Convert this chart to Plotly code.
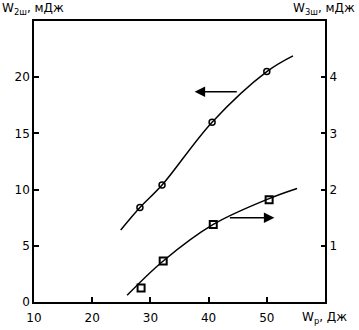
import plotly.graph_objects as go

# Data
wp_circ = [28.2, 32.0, 40.6, 50.0]
w2_circ = [8.4, 10.4, 16.0, 20.5]
wp_circ_curve = [24.9, 28.2, 32.0, 40.6, 50.0, 54.5]
w2_circ_curve = [6.4, 8.4, 10.4, 16.0, 20.5, 21.9]

wp_sq = [28.4, 32.2, 40.8, 50.4]
w3_sq = [0.25, 0.73, 1.38, 1.82]
wp_sq_curve = [26.0, 32.2, 40.8, 50.4, 55.2]
w3_sq_curve = [0.12, 0.73, 1.38, 1.84, 2.02]

x_ticks = [10, 20, 30, 40, 50]
y_left_ticks = [0, 5, 10, 15, 20]
y_right_ticks = [1, 2, 3, 4]

FONT = "DejaVu Sans"

fig = go.Figure()
fig.add_trace(go.Scatter(x=wp_circ_curve, y=w2_circ_curve, mode="lines",
                         line=dict(color="black", width=1.5, shape="spline"),
                         showlegend=False, hoverinfo="skip"))
fig.add_trace(go.Scatter(x=wp_circ, y=w2_circ, mode="markers",
                         marker=dict(symbol="circle-open", size=6, color="black",
                                     line=dict(width=1.5, color="black")),
                         showlegend=False))
fig.add_trace(go.Scatter(x=wp_sq_curve, y=w3_sq_curve, mode="lines", yaxis="y2",
                         line=dict(color="black", width=1.5, shape="spline"),
                         showlegend=False, hoverinfo="skip"))
fig.add_trace(go.Scatter(x=wp_sq, y=w3_sq, mode="markers", yaxis="y2",
                         marker=dict(symbol="square-open", size=7, color="black",
                                     line=dict(width=2, color="black")),
                         showlegend=False))

W, H = 359, 330
L, R, T, B = 34, 34, 21, 28
plot_h = H - T - B
plot_w = W - L - R

fig.update_layout(
    width=W, height=H,
    margin=dict(l=L, r=R, t=T, b=B),
    plot_bgcolor="white", paper_bgcolor="white",
    font=dict(family=FONT, size=12, color="black"),
    xaxis=dict(range=[10, 60], tickvals=x_ticks, ticks="inside", ticklen=5,
               tickwidth=1.5, tickcolor="black", showline=True, linecolor="black",
               linewidth=2, mirror=True, showgrid=False, zeroline=False,
               tickfont=dict(size=12), automargin=False, ticklabelstandoff=4),
    yaxis=dict(range=[0, 25], tickvals=y_left_ticks, ticks="inside", ticklen=5,
               tickwidth=1.5, tickcolor="black", showline=True, linecolor="black",
               linewidth=1.5, showgrid=False, zeroline=False, tickfont=dict(size=12),
               automargin=False),
    yaxis2=dict(range=[0, 5], tickvals=y_right_ticks, overlaying="y", side="right",
                ticks="inside", ticklen=4, tickwidth=1.5, tickcolor="black",
                showline=True, linecolor="black", linewidth=2, showgrid=False,
                zeroline=False, tickfont=dict(size=12), automargin=False),
    annotations=[
        dict(x=37.6, y=18.7, ax=45.1, ay=18.7, xref="x", yref="y", axref="x", ayref="y",
             text="", showarrow=True, arrowhead=2, arrowsize=1.4, arrowwidth=1.5,
             arrowcolor="black"),
        dict(x=51.3, y=7.5, ax=43.4, ay=7.5, xref="x", yref="y", axref="x", ayref="y",
             text="", showarrow=True, arrowhead=2, arrowsize=1.4, arrowwidth=1.5,
             arrowcolor="black"),
        dict(x=(0 - L) / plot_w, y=(H - B - 9) / plot_h - 0, xref="paper", yref="paper",
             text="W<sub>2ш</sub>, мДж", showarrow=False, xanchor="left", yanchor="middle"),
        dict(x=(357 - L) / plot_w, y=(H - B - 9) / plot_h, xref="paper", yref="paper",
             text="W<sub>3ш</sub>, мДж", showarrow=False, xanchor="right", yanchor="middle"),
        dict(x=(349 - L) / plot_w, y=(H - B - 318) / plot_h, xref="paper", yref="paper",
             text="W<sub>р</sub>, Дж", showarrow=False, xanchor="right", yanchor="middle"),
    ],
)

fig.write_html("out.html", config={"displayModeBar": False},
               post_script="document.body.style.margin='0';document.body.style.overflow='hidden';")
